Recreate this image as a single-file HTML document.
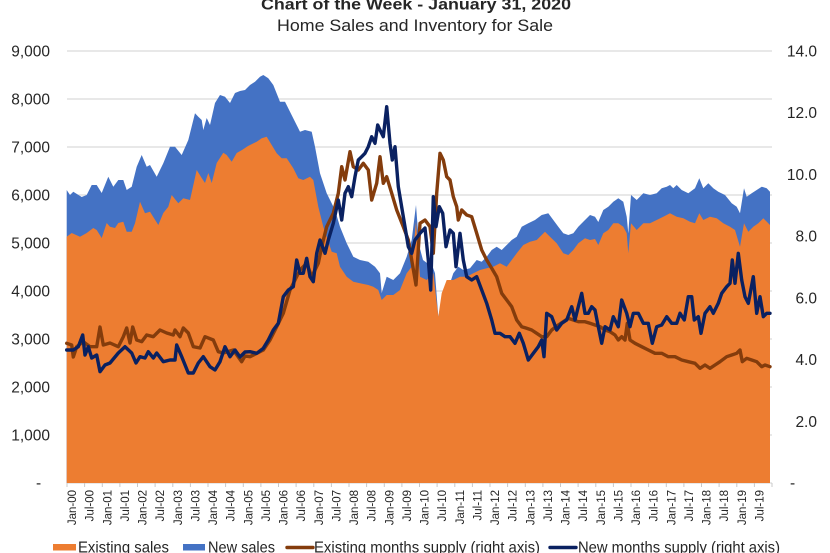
<!DOCTYPE html>
<html>
<head>
<meta charset="utf-8">
<style>
  html,body{margin:0;padding:0;background:#fff;}
  body{width:830px;height:553px;overflow:hidden;}
  svg{display:block;}
  text{font-family:"Liberation Sans", Arial, sans-serif;fill:#262626;}
</style>
</head>
<body>
<svg width="830" height="553" viewBox="0 0 830 553" xmlns="http://www.w3.org/2000/svg">
  <rect x="0" y="0" width="830" height="553" fill="#fff"/>

  <!-- Titles -->
  <text x="416" y="9.5" text-anchor="middle" font-size="16" font-weight="bold" fill="#000" textLength="310" lengthAdjust="spacingAndGlyphs">Chart of the Week - January 31, 2020</text>
  <text x="415" y="31" text-anchor="middle" font-size="16.5" fill="#000" textLength="276" lengthAdjust="spacingAndGlyphs">Home Sales and Inventory  for Sale</text>

  <!-- Gridlines -->
  <g stroke="#D9D9D9" stroke-width="1.3">
    <line x1="67" y1="51" x2="772" y2="51"/>
    <line x1="67" y1="99" x2="772" y2="99"/>
    <line x1="67" y1="147" x2="772" y2="147"/>
    <line x1="67" y1="195" x2="772" y2="195"/>
    <line x1="67" y1="243" x2="772" y2="243"/>
    <line x1="67" y1="291" x2="772" y2="291"/>
    <line x1="67" y1="339" x2="772" y2="339"/>
    <line x1="67" y1="387" x2="772" y2="387"/>
    <line x1="67" y1="435" x2="772" y2="435"/>
    <line x1="67" y1="483" x2="772" y2="483"/>
  </g>

  <!-- New sales (total) area -->
  <polygon fill="#4472C4" points="66.7,483 66.7,190 70,195 73.3,191.7 81.7,197 86.7,195 91.7,185 96.7,185 101.7,193 108.3,176.7 113.3,186.7 118.3,180 123.3,180 126.7,190 131.7,186.7 136.7,166.7 141.7,155 146.7,166.7 150,165 156.7,176.7 163.3,163.3 170,146.7 175,146.7 181.7,155 188.3,140 195,113.3 198.3,116.7 201.7,120 203.3,130 206.7,118 210,125 215,103 220,95 225,96.7 230,103 235,93 240,91 245,90 250,85 255,81.7 260,76.7 263.3,75 268.3,78.3 273.3,85 280,101.7 285,101.7 290,111.7 295,121.7 300,131.7 305,130 311.7,131.7 315,146.7 320,173.3 326.7,193.3 335,210 340,226.7 346.7,243.3 353.3,256.7 360,260 368.3,261.7 375,266.7 380,273.3 381.7,293 386.7,276.7 393.3,280 400,273.3 406.7,256.7 411.7,240 416,205 419,245 423,260 427,263 431,262 435,273.3 438.3,316.7 441.7,300 446.7,293.3 453.3,273.3 458.3,266.7 463.3,270 470,268.3 476.7,260 481.7,261.7 486.7,256.7 491.7,250 496.7,246.7 501.7,250 506.7,245 511.7,240 516.7,236.7 521.7,226.7 528.3,223.3 535,220 541.7,215 548.3,213.3 553.3,220 558.3,226.7 563.3,233.3 568.3,235 573.3,233.3 578.3,226.7 585,220 590,215 595,216.7 598.3,222 603.3,210 608.3,206.7 613.3,201.7 618.3,198.3 623.3,201.7 626.7,216.7 628.3,233.3 631,195 636.7,200 643.3,193.3 650,195 656.7,193.3 661.7,188.3 666.7,186.7 670,185 673.3,188.3 676.7,185 681.7,190 688.3,193.3 695,188.3 699.3,178.3 703.3,188.3 708.3,183.3 713.3,188.3 718.3,191.7 725,195 731.7,203.3 736.7,206.7 740,213.3 744,188.3 746.7,196.7 751.7,193.3 756.7,190 761.7,186.7 766.7,188.3 770,191.7 770,483"/>

  <!-- Existing sales area -->
  <polygon fill="#ED7D31" points="66.7,483 66.7,236.7 71.7,233 80,236.7 86.7,233 93.3,228 96.7,230 101.7,238 106.7,223 110,226.7 115,228 118.3,223 123.3,221.7 126.7,231.7 131.7,231.7 135,223.3 140,201.7 145,213.3 150,211.7 158.3,225 163.3,213 168.3,206.7 171.7,195 178.3,203.3 183.3,198.3 190,200 196.7,170 201.7,178 205,183 208.3,173 211.7,183 216.7,163 223.3,152.7 226.7,155 231.7,161.7 236.7,153 242,150 248,146 256.7,141.7 261.7,138.3 266.7,136.7 271.7,145 276.7,153.3 281.7,158.3 286.7,158.3 293.3,168.3 298.3,178.3 303.3,180 310,176.7 313.3,180 318.3,206.7 323.3,226.7 328.3,241.7 331.7,251.7 336.7,253.3 340,266.7 346.7,276.7 353.3,281.7 360,283.3 368.3,285 373.3,286.7 378.3,290 381.7,300 386.7,295 393.3,295 400,290 406.7,273.3 411.7,266.7 416,222 420,276.7 426.7,280 433.3,273.3 438.3,316.7 441.7,293.3 446.7,280 453.3,280 460,276.7 466.7,276.7 473.3,273.3 480,270 486.7,268.3 493.3,266.7 500,263.3 506.7,266.7 511.7,260 516.7,253.3 523.3,245 530,241.7 536.7,240 545,231.7 550,236.7 556.7,243.3 563.3,253.3 568.3,255 573.3,250 578.3,243.3 585,238.3 590,240 595,239 598.3,245 603.3,233.3 608.3,230 613.3,223.3 618.3,223.3 623.3,226.7 626.7,233.3 628.3,253.3 631,223.3 636.7,230 643.3,223.3 650,223.3 656.7,220 663.3,216.7 670,213.3 676.7,216.7 683.3,218.3 690,221.7 695,223.3 699.3,213.3 703.3,220 710,216.7 716.7,218.3 723.3,223.3 730,226.7 735,230 740,246.7 744,223.3 748.3,231.7 753.3,226.7 758.3,223.3 763.3,218.3 770,225 770,483"/>

  <!-- Existing months supply -->
  <polyline fill="none" stroke="#843C0C" stroke-width="3.4" stroke-linejoin="round" stroke-linecap="round" points="66.7,343.3 71.7,345 73.3,357 76.7,346.7 83.3,341.7 90,346.7 96.7,346.7 100,327 103.3,345 110,343 118.3,346.7 123.3,336.7 126.7,328 130,343 132.7,327 136.7,340 141.7,341.7 146.7,335 153.3,336.7 160,330 166.7,333 173.3,335 175,330 180,336.7 183.3,328 188.3,333 193.3,346.7 200,348 205,336.7 213.3,340 218.3,351.7 223.3,353 233.3,350 241.7,361.7 245,356 250,356.7 256.7,353.3 263.3,350 270,340 276.7,326.7 283.3,313.3 290,290 295,280 300,270 306.7,263.3 311.7,276.7 318.3,263.3 321.7,246.7 326.7,226.7 333.3,213.3 338.3,193.3 341.7,166.7 345,180 350,151.7 353.3,166.7 358.3,170 363.3,163.3 368.3,170 371.7,200 376.7,183.3 380,156.7 383.3,183.3 386.7,176.7 391.7,193.3 396.7,210 403.3,226.7 408.3,240 411.7,260 416,285 420,223.3 425,220 430,226.7 433.3,253.3 436.7,193.3 440,153.3 443.3,160 446.7,176.7 450,180 453.3,196.7 456.7,206.7 458.3,220 461.7,210 466.7,215 471.7,216.7 476.7,233.3 481.7,250 486.7,260 491.7,268.3 496.7,276.7 501.7,293.3 506.7,300 511.7,306.7 516.7,320 521.7,326.7 526.7,328.3 531.7,330 536.7,333.3 541.7,336.7 546.7,336.7 551.7,330 558.3,325 563.3,321.7 568.3,318.3 573.3,320 578.3,321.7 585,321.7 590,323.3 595,325 600,326.7 605,330 610,331.7 615,335 618.3,340 621.7,336.7 625,340 627.3,323.3 630,340 635,343.3 641.7,346.7 648.3,350 655,353.3 661.7,353.3 668.3,356.7 675,356.7 681.7,360 688.3,361.7 695,363.3 700,368.3 705,365 710,368.3 715,365 720,361.7 726.7,356.7 731.7,355 736.7,353.3 740,350 742.3,361.7 746.7,358.3 751.7,360 756.7,361.7 761.7,366.7 765,365 770,366.7"/>

  <!-- New months supply -->
  <polyline fill="none" stroke="#0A2161" stroke-width="3.4" stroke-linejoin="round" stroke-linecap="round" points="66.7,350 73.3,350 78.3,346.7 82.7,335 85,355 88.3,346.7 91.7,358 96.7,355 100,371.7 105,365 110,363 118.3,353 125,346.7 131.7,353 136,363 140,356.7 145,358 148.3,351.7 153.3,358 156.7,353 163.3,361.7 170,360 175,360 176.7,345 181.7,356.7 188.3,373 193.3,373 198.3,363 203.3,356.7 210,366.7 215,370 220,361.7 225,346.7 230,356.7 235,350 240,357 245,352 250,351.7 256.7,353.3 263.3,348.3 268.3,340 273.3,330 278.3,323.3 283.3,296.7 288.3,290 293.3,286.7 296.7,260 300,273.3 303.3,273.3 306.7,258.3 310,276.7 313.3,281.7 316.7,253.3 320,240 325,253.3 328.3,240 333.3,223.3 338.3,200 341.7,220 345,193.3 348.3,186.7 351.7,196.7 355,176.7 358.3,160 361.7,156.7 365,153.3 368.3,146.7 371.7,136.7 375,143.3 377.7,125 380,130 383.3,136.7 386.7,106.7 390,143.3 392.3,160 395,146.7 398.3,186.7 403.3,216.7 408.3,246.7 411.7,253.3 415,240 420,233.3 425,228 428.3,260 430.7,290 433.3,196.7 436,226.7 439.3,206.7 442.7,213.3 446,246.7 450,230 453.3,233.3 456,266.7 460,233.3 463.3,260 466.7,276.7 471.7,280 476.7,276.7 481.7,290 486.7,303.3 491.7,320 495,333.3 500,333.3 505,336.7 510,336.7 515,343.3 519.3,333.3 523.3,343.3 528.3,360 533.3,353.3 538.3,346.7 541.7,340 544,356.7 546.7,313.3 551.7,316.7 556.7,330 561.7,323.3 566.7,320 571.7,306.7 575,320 578.3,306.7 581.7,293.3 585,313.3 588.3,313.3 591.7,306.7 595,310 598.3,326.7 601.7,343.3 605,326.7 610,330 613.3,316.7 618.3,326.7 621.7,300 626.7,313.3 630,326.7 633.3,313.3 638.3,313.3 643.3,323.3 648.3,323.3 652.3,343.3 656.7,326.7 661.7,325 666.7,316.7 671.7,323.3 676.7,323.3 680,313.3 684.3,320 688.3,296.7 691.7,296.7 694.3,320 698.3,316.7 701,333.3 705,313.3 710,306.7 713.3,313.3 718.3,303.3 721.7,293.3 726.7,286.7 730,283.3 732.3,260 735,283.3 738.3,253.3 741.7,280 745,296.7 748.3,303.3 753.3,276.7 756.7,313.3 760,296.7 763.3,316.7 766.7,313.3 770,313.3"/>

  <!-- Tick marks -->
  <g stroke="#C8C8C8" stroke-width="1">
    <line x1="67" y1="483" x2="67" y2="487"/><line x1="84.6" y1="483" x2="84.6" y2="487"/><line x1="102.3" y1="483" x2="102.3" y2="487"/><line x1="119.9" y1="483" x2="119.9" y2="487"/><line x1="137.5" y1="483" x2="137.5" y2="487"/><line x1="155.1" y1="483" x2="155.1" y2="487"/><line x1="172.8" y1="483" x2="172.8" y2="487"/><line x1="190.4" y1="483" x2="190.4" y2="487"/><line x1="208" y1="483" x2="208" y2="487"/><line x1="225.6" y1="483" x2="225.6" y2="487"/><line x1="243.3" y1="483" x2="243.3" y2="487"/><line x1="260.9" y1="483" x2="260.9" y2="487"/><line x1="278.5" y1="483" x2="278.5" y2="487"/><line x1="296.1" y1="483" x2="296.1" y2="487"/><line x1="313.8" y1="483" x2="313.8" y2="487"/><line x1="331.4" y1="483" x2="331.4" y2="487"/><line x1="349" y1="483" x2="349" y2="487"/><line x1="366.6" y1="483" x2="366.6" y2="487"/><line x1="384.3" y1="483" x2="384.3" y2="487"/><line x1="401.9" y1="483" x2="401.9" y2="487"/><line x1="419.5" y1="483" x2="419.5" y2="487"/><line x1="437.1" y1="483" x2="437.1" y2="487"/><line x1="454.8" y1="483" x2="454.8" y2="487"/><line x1="472.4" y1="483" x2="472.4" y2="487"/><line x1="490" y1="483" x2="490" y2="487"/><line x1="507.6" y1="483" x2="507.6" y2="487"/><line x1="525.3" y1="483" x2="525.3" y2="487"/><line x1="542.9" y1="483" x2="542.9" y2="487"/><line x1="560.5" y1="483" x2="560.5" y2="487"/><line x1="578.1" y1="483" x2="578.1" y2="487"/><line x1="595.8" y1="483" x2="595.8" y2="487"/><line x1="613.4" y1="483" x2="613.4" y2="487"/><line x1="631" y1="483" x2="631" y2="487"/><line x1="648.6" y1="483" x2="648.6" y2="487"/><line x1="666.3" y1="483" x2="666.3" y2="487"/><line x1="683.9" y1="483" x2="683.9" y2="487"/><line x1="701.5" y1="483" x2="701.5" y2="487"/><line x1="719.1" y1="483" x2="719.1" y2="487"/><line x1="736.8" y1="483" x2="736.8" y2="487"/><line x1="754.4" y1="483" x2="754.4" y2="487"/><line x1="772" y1="483" x2="772" y2="487"/>
  </g>

  <!-- Left axis labels -->
  <g font-size="15.5" text-anchor="end">
    <text x="50" y="56.5">9,000</text>
    <text x="50" y="104.5">8,000</text>
    <text x="50" y="152.5">7,000</text>
    <text x="50" y="200.5">6,000</text>
    <text x="50" y="248.5">5,000</text>
    <text x="50" y="296.5">4,000</text>
    <text x="50" y="344.5">3,000</text>
    <text x="50" y="392.5">2,000</text>
    <text x="50" y="440.5">1,000</text>
  </g>
  <text x="36" y="488" font-size="15.5">-</text>

  <!-- Right axis labels -->
  <g font-size="15.5" text-anchor="end">
    <text x="817" y="56.5">14.0</text>
    <text x="817" y="118.2">12.0</text>
    <text x="817" y="179.9">10.0</text>
    <text x="817" y="241.6">8.0</text>
    <text x="817" y="303.4">6.0</text>
    <text x="817" y="365.1">4.0</text>
    <text x="817" y="426.8">2.0</text>
  </g>
  <text x="790" y="488" font-size="15.5">-</text>

  <!-- X axis labels -->
  <g font-size="11.5" text-anchor="end">
    <text transform="translate(76,490) rotate(-90)">Jan-00</text>
    <text transform="translate(93.6,490) rotate(-90)">Jul-00</text>
    <text transform="translate(111.3,490) rotate(-90)">Jan-01</text>
    <text transform="translate(128.9,490) rotate(-90)">Jul-01</text>
    <text transform="translate(146.5,490) rotate(-90)">Jan-02</text>
    <text transform="translate(164.1,490) rotate(-90)">Jul-02</text>
    <text transform="translate(181.8,490) rotate(-90)">Jan-03</text>
    <text transform="translate(199.4,490) rotate(-90)">Jul-03</text>
    <text transform="translate(217,490) rotate(-90)">Jan-04</text>
    <text transform="translate(234.6,490) rotate(-90)">Jul-04</text>
    <text transform="translate(252.3,490) rotate(-90)">Jan-05</text>
    <text transform="translate(269.9,490) rotate(-90)">Jul-05</text>
    <text transform="translate(287.5,490) rotate(-90)">Jan-06</text>
    <text transform="translate(305.1,490) rotate(-90)">Jul-06</text>
    <text transform="translate(322.8,490) rotate(-90)">Jan-07</text>
    <text transform="translate(340.4,490) rotate(-90)">Jul-07</text>
    <text transform="translate(358,490) rotate(-90)">Jan-08</text>
    <text transform="translate(375.6,490) rotate(-90)">Jul-08</text>
    <text transform="translate(393.3,490) rotate(-90)">Jan-09</text>
    <text transform="translate(410.9,490) rotate(-90)">Jul-09</text>
    <text transform="translate(428.5,490) rotate(-90)">Jan-10</text>
    <text transform="translate(446.1,490) rotate(-90)">Jul-10</text>
    <text transform="translate(463.8,490) rotate(-90)">Jan-11</text>
    <text transform="translate(481.4,490) rotate(-90)">Jul-11</text>
    <text transform="translate(499,490) rotate(-90)">Jan-12</text>
    <text transform="translate(516.6,490) rotate(-90)">Jul-12</text>
    <text transform="translate(534.3,490) rotate(-90)">Jan-13</text>
    <text transform="translate(551.9,490) rotate(-90)">Jul-13</text>
    <text transform="translate(569.5,490) rotate(-90)">Jan-14</text>
    <text transform="translate(587.1,490) rotate(-90)">Jul-14</text>
    <text transform="translate(604.8,490) rotate(-90)">Jan-15</text>
    <text transform="translate(622.4,490) rotate(-90)">Jul-15</text>
    <text transform="translate(640,490) rotate(-90)">Jan-16</text>
    <text transform="translate(657.6,490) rotate(-90)">Jul-16</text>
    <text transform="translate(675.3,490) rotate(-90)">Jan-17</text>
    <text transform="translate(692.9,490) rotate(-90)">Jul-17</text>
    <text transform="translate(710.5,490) rotate(-90)">Jan-18</text>
    <text transform="translate(728.1,490) rotate(-90)">Jul-18</text>
    <text transform="translate(745.8,490) rotate(-90)">Jan-19</text>
    <text transform="translate(763.4,490) rotate(-90)">Jul-19</text>
  </g>

  <!-- Legend -->
  <rect x="53" y="544" width="23" height="6.5" fill="#ED7D31"/>
  <text x="78" y="552.5" font-size="16" textLength="91" lengthAdjust="spacingAndGlyphs">Existing sales</text>
  <rect x="183" y="544" width="22" height="6.5" fill="#4472C4"/>
  <text x="208" y="552.5" font-size="16" textLength="67" lengthAdjust="spacingAndGlyphs">New sales</text>
  <line x1="287" y1="547.5" x2="313" y2="547.5" stroke="#843C0C" stroke-width="3.4" stroke-linecap="round"/>
  <text x="314" y="552.5" font-size="16" textLength="226" lengthAdjust="spacingAndGlyphs">Existing months supply (right axis)</text>
  <line x1="550" y1="547.5" x2="576" y2="547.5" stroke="#0A2161" stroke-width="3.4" stroke-linecap="round"/>
  <text x="578" y="552.5" font-size="16" textLength="202" lengthAdjust="spacingAndGlyphs">New months supply (right axis)</text>
</svg>
</body>
</html>
